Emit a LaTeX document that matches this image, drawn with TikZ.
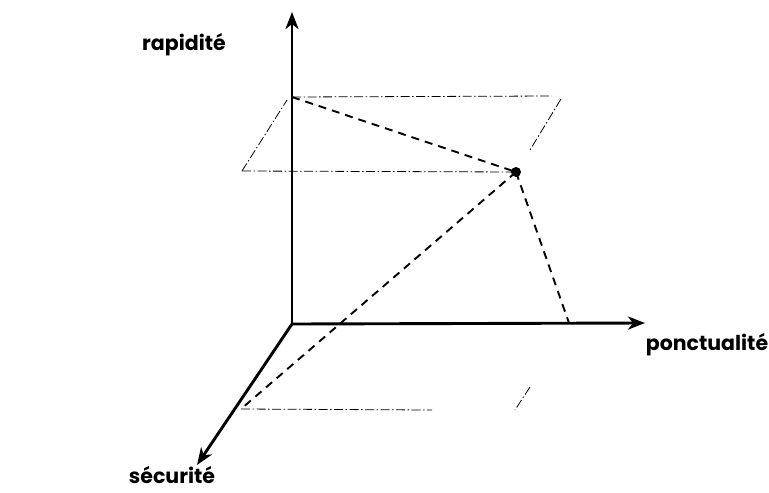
\documentclass[tikz,border=0pt]{standalone}
\usepackage{fontspec}
\setmainfont{Poppins}
\usetikzlibrary{arrows.meta}
\begin{document}
\begin{tikzpicture}[x=1pt,y=-1pt,
  axis/.style={line width=2.9pt,-{Stealth[length=17pt,width=13pt,inset=5pt]}},
  guide/.style={line width=0.8pt, dash pattern=on 9pt off 2.5pt on 1.5pt off 2.5pt},
  link/.style={line width=1.9pt, dash pattern=on 8pt off 6pt},
  lab/.style={font=\bfseries\fontsize{20.5}{24}\selectfont, inner sep=0pt}]
\useasboundingbox (0,0) rectangle (769,493);
% axis points
\coordinate (O) at (292,324);
\coordinate (Ytip) at (292,12);
\coordinate (Xtip) at (645,323);
\coordinate (Ztip) at (197,465);
\coordinate (R) at (292,97);
\coordinate (S) at (241,409);
\coordinate (X) at (569,323);
\coordinate (P) at (516,172);
% guide points
\coordinate (G1) at (552,96);
\coordinate (G2) at (561,99);
\coordinate (G3) at (530,150);
\coordinate (G4) at (242,171);
\coordinate (G5) at (287,100);
\coordinate (G6) at (432,410);
\coordinate (G7) at (530,387);
\coordinate (G8) at (515,410);
% guides (dash-dot)
\draw[guide] (R) -- (G1);
\draw[guide] (G2) -- (G3);
\draw[guide] (G4) -- (P);
\draw[guide] (G4) -- (G5);
\draw[guide] (S) -- (G6);
\draw[guide] (G7) -- (G8);
% axes
\draw[axis] (O) -- (Ytip);
\draw[axis] (O) -- (Xtip);
\draw[axis] (O) -- (Ztip);
% dashed links
\draw[link] (R) -- (P);
\draw[link] (P) -- (S);
\draw[link] (P) -- (X);
\fill (P) circle (5pt);
% labels
\node[lab] (lr) at (184,45) {rapidité};
\node[lab] (lp) at (707,345) {ponctualité};
\node[lab] (ls) at (172,475) {sécurité};
\end{tikzpicture}
\end{document}
